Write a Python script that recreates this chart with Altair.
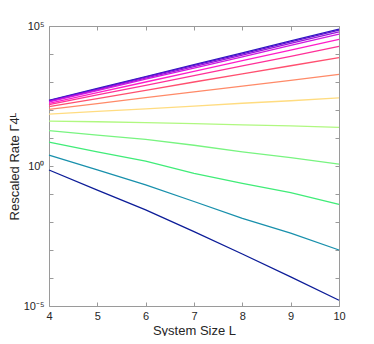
import altair as alt
import pandas as pd

L = [4, 5, 6, 7, 8, 9, 10]

series_names = ["s01", "s02", "s03", "s04", "s05", "s06", "s07",
                "s08", "s09", "s10", "s11", "s12", "s13", "s14"]
colors = ["#2c18c0", "#5c12d0", "#9a14dc", "#d018e0", "#ff1cc8", "#ff3098",
          "#ff5070", "#ff8a68", "#ffdc80", "#b0f880", "#78f480", "#40ec78",
          "#1890ac", "#0c1c98"]

s01 = [219, 589, 1550, 4170, 11000, 29500, 77600]
s02 = [214, 562, 1480, 3890, 10200, 26900, 70800]
s03 = [204, 525, 1380, 3550, 9120, 24000, 61700]
s04 = [195, 490, 1260, 3160, 7940, 20400, 51300]
s05 = [174, 417, 1000, 2400, 5750, 13800, 33100]
s06 = [155, 347, 759, 1700, 3800, 8300, 18600]
s07 = [132, 257, 501, 1000, 1950, 3800, 7400]
s08 = [105, 170, 275, 447, 708, 1150, 1860]
s09 = [71, 89, 110, 138, 174, 214, 269]
s10 = [40, 38, 35.5, 32.4, 29.5, 26.9, 24]
s11 = [18.2, 12.6, 8.9, 5.5, 3.2, 2.0, 1.17]
s12 = [7.1, 3.2, 1.5, 0.55, 0.24, 0.112, 0.043]
s13 = [2.45, 0.72, 0.21, 0.054, 0.0135, 0.004, 0.001]
s14 = [0.72, 0.138, 0.027, 0.0045, 0.00072, 0.00011, 0.000016]

all_series = [s01, s02, s03, s04, s05, s06, s07, s08, s09, s10, s11, s12, s13, s14]

y_ticks = [1e-5, 1e-4, 1e-3, 1e-2, 1e-1, 1e0, 1e1, 1e2, 1e3, 1e4, 1e5]

rows = []
for name, vals in zip(series_names, all_series):
    for x, v in zip(L, vals):
        rows.append({"L": x, "rate": v, "series": name})
df = pd.DataFrame(rows)

font = "Liberation Sans"
txt = "#262626"
grey = "#9a9a9a"

xscale = alt.Scale(domain=[4, 10], nice=False)
yscale = alt.Scale(type="log", domain=[1e-5, 1e5], nice=False)
cscale = alt.Scale(domain=series_names, range=colors)

label_expr = ("datum.value == 1e5 ? '10⁵' : (datum.value == 1 ? '10⁰' : "
              "(datum.value == 1e-5 ? '10⁻⁵' : ''))")

base = alt.Chart(df).mark_line(strokeWidth=1.3).encode(
    x=alt.X("L:Q", scale=xscale,
            axis=alt.Axis(values=L, title="System Size L", orient="bottom",
                          offset=-4, tickSize=4, domain=False, grid=False,
                          tickColor=grey, labelPadding=4, labelFont=font,
                          labelFontSize=11, labelColor=txt, titleFont=font,
                          titleFontSize=13, titleFontWeight="normal",
                          titleColor=txt, titlePadding=3, labelFlush=False)),
    y=alt.Y("rate:Q", scale=yscale,
            axis=alt.Axis(values=y_ticks, labelExpr=label_expr, orient="left",
                          title="Rescaled Rate Γ4ᴸ", offset=-4, tickSize=4,
                          domain=False, grid=False, tickColor=grey,
                          labelPadding=5, labelFont=font, labelFontSize=11,
                          labelColor=txt, titleFont=font, titleFontSize=13,
                          titleFontWeight="normal", titleColor=txt,
                          titlePadding=2, labelFlush=False)),
    color=alt.Color("series:N", scale=cscale, legend=None),
    detail="series:N",
)

frame = alt.Chart(df).mark_line(opacity=0).encode(
    x=alt.X("L:Q", scale=xscale,
            axis=alt.Axis(values=L, orient="top", labels=False, title=None,
                          offset=-4, tickSize=4, domain=False, grid=False,
                          tickColor=grey)),
    y=alt.Y("rate:Q", scale=yscale,
            axis=alt.Axis(values=y_ticks, orient="right", labels=False,
                          title=None, offset=-4, tickSize=4, domain=False,
                          grid=False, tickColor=grey)),
    detail="series:N",
)

chart = alt.layer(base, frame).resolve_axis(
    x="independent", y="independent"
).properties(
    width=290,
    height=280,
    autosize=alt.AutoSizeParams(type="none"),
    padding={"left": 41, "top": 18, "right": 20, "bottom": 30},
    background="white",
).configure_view(stroke=grey, strokeWidth=1)

chart.save("out.html", embed_options={"renderer": "svg", "actions": False})
